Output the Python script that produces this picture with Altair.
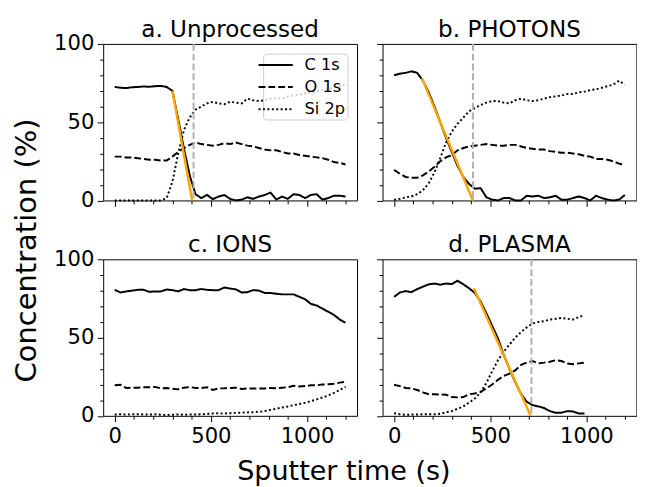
import altair as alt
import pandas as pd

series = ["C 1s", "O 1s", "Si 2p"]
t_full = list(range(0, 1201, 30))
t_plasma = list(range(0, 991, 30))

# a. Unprocessed
a_c = [72.5, 72, 71.8, 72.3, 72.5, 72.8, 72.6, 73, 73.2, 72.5, 70, 52, 33, 16, 4, 1.5, 3.5, 0.8, 2.5, 3.5,
       1, 0, 0.5, 2, 1, 2.5, 3.5, 5, 0.5, 2.5, 1, 4, 3.5, 1.5, 3.5, 4, 0.5, 1.5, 3, 3, 2.5]
a_o = [28, 28, 27.5, 27.5, 27, 26.5, 26, 26, 25.5, 25.5, 28, 31, 33.5, 35.5, 37, 36, 35.5, 35, 35.5, 36.5,
       36, 37, 36, 35, 34.5, 33.5, 32.5, 32, 32, 31, 30, 30, 29, 28.5, 28, 27.5, 27, 26, 24.5, 24, 23]
a_si = [0, 0, 0, 0, 0, 0, 0, 0, 0, 1.5, 12, 30, 45, 53, 58, 60, 62, 63, 62, 61.5,
        63, 62.5, 62, 65, 64, 63.5, 64, 65, 65.5, 65, 66.5, 67, 67.5, 68.5, 69, 69.5, 70.5, 71, 72.5, 73, 74]

# b. PHOTONS
b_c = [80, 81, 81.5, 82.5, 81.5, 76.5, 69, 60, 50, 40, 31, 22, 15, 10.5, 7.5, 7.8, 2, 0.5, 0, 1.5,
       1.5, 0, 0, 3, 2.5, 3, 1.5, 2, 3, 0.5, 0.5, 1.5, 2.5, 1.5, 0, 3, 1.5, 0.5, 0, 0.5, 3.5]
b_o = [19.5, 17, 15, 14.5, 14.5, 16, 18.5, 21.5, 25, 27.5, 29, 32, 33.5, 34.5, 35, 35.5, 36, 35.5, 35, 35,
       35.5, 35.5, 34.5, 33.5, 33, 32.5, 32.5, 31.5, 31, 30.5, 30.5, 30, 29.5, 28.5, 28, 26.5, 26.5, 26, 25, 23.5, 22.5]
b_si = [0.5, 1, 2, 2.5, 4, 6.5, 11, 18, 27, 37, 44, 49, 53, 57, 59, 61, 62.5, 63.5, 63.5, 62.5,
        62, 64, 65, 64, 63.5, 64, 65, 66, 66.5, 67, 68, 68, 69, 69.5, 70.5, 71, 72, 73, 74, 76.5, 74]

# c. IONS
c_c = [80.5, 78.8, 79.5, 80, 80.5, 80.5, 79.2, 79.5, 79.5, 80.7, 80.3, 79.5, 81, 80.3, 80.3, 81, 80.5, 80.3, 80.3, 82,
       81.3, 80.8, 78.8, 79, 80.3, 80, 78.5, 78.5, 78, 77.6, 77.6, 77.6, 76, 74.5, 71.5, 70.5, 68.5, 66.5, 64.5, 61.5, 59.5]
c_o = [19.5, 19.8, 17.8, 18, 18, 18.3, 18.3, 18.5, 17.5, 17.8, 17.3, 16.9, 18, 18.4, 17.8, 17.8, 18.3, 16.5, 17.5, 17.6,
       17.8, 18, 17.2, 17.5, 17.5, 17.5, 17.5, 17.8, 17.6, 18, 18.3, 19.2, 18.8, 19, 19.5, 19.5, 20, 20.2, 20.5, 21.2, 21.8]
c_si = [0.8, 1, 0.8, 1, 1, 0.9, 0.8, 1, 0.7, 0.5, 0.7, 0.9, 0.7, 0.9, 0.8, 1, 1.2, 1.5, 1.6, 1.5,
        1.7, 1.9, 2, 2.2, 2.3, 2.6, 3, 3.8, 4.5, 5.3, 6, 6.8, 7.6, 8.4, 9.4, 10.5, 11.7, 13, 14.6, 16.5, 18.5]

# d. PLASMA
d_c = [76, 78.8, 79.7, 79, 81, 82.5, 84, 84.5, 83.8, 84.5, 84.2, 86.3, 84, 81.5, 78.5, 73, 65.5, 57.5, 49.5, 39,
       30, 21.5, 14, 9, 6.8, 6, 5, 3, 2, 2, 3, 2.8, 1.5, 1.5]
d_o = [19.9, 19, 17.8, 17.5, 16.5, 15, 13.8, 13.8, 13.6, 13.5, 12, 11.8, 12, 13.8, 14.3, 15.3, 17.5, 20, 23, 25.5,
       27, 29, 32.5, 34, 35, 33.5, 34, 34.6, 35.5, 35, 33.5, 33, 33.5, 34]
d_si = [1.7, 1, 0.6, 0.8, 0.8, 1, 1, 1, 1.3, 2.2, 3, 4.5, 6, 8.5, 11, 15, 21, 28.5, 35.5, 41,
        45.5, 50, 53.5, 56.5, 59, 60, 60.5, 61.5, 62, 62.5, 62, 61.5, 63, 64.5]

# linear fits (orange) and grey dashed markers
fit_a_t, fit_a_v = [300, 403], [70, 0]
fit_b_t, fit_b_v = [145, 410], [78, 0]
fit_d_t, fit_d_v = [415, 710], [81.5, 0]
vline_a, vline_b, vline_d = 410, 410, 714

titles = ["a. Unprocessed", "b. PHOTONS", "c. IONS", "d. PLASMA"]
x_title = "Sputter time (s)"
y_title = "Concentration (%)"

FONT = "DejaVu Sans"
W, H = 258.7, 159.5
dash_scale = alt.Scale(domain=series, range=[[1, 0], [7, 3], [2, 2.5]])


def text_layer(txt, px, py, size, angle=0):
    return alt.Chart(pd.DataFrame({"label": [txt]})).mark_text(
        font=FONT, fontSize=size, color="black", align="center", baseline="alphabetic", angle=angle
    ).encode(text="label:N", x=alt.value(px), y=alt.value(py))


def panel(title, t, c, o, si, fit_t=None, fit_v=None, vline=None,
          xlabels=False, ylabels=False, legend=False, ytitle=False, xtitle=False):
    df = pd.DataFrame({
        "t": t * 3,
        "value": c + o + si,
        "series": [series[0]] * len(t) + [series[1]] * len(t) + [series[2]] * len(t),
    })
    xaxis = alt.Axis(
        values=list(range(0, 1300, 100)), format="d", title=None,
        labelExpr="datum.value % 500 === 0 ? datum.label : ''",
        tickSize={"condition": {"test": "datum.value % 500 === 0", "value": 6}, "value": 3.5},
        labels=xlabels, grid=False, domain=False, tickColor="black", tickWidth=1, labelOverlap=False,
        labelFont=FONT, labelFontSize=21.5, labelColor="black", labelPadding=4, labelFlush=False,
    )
    yaxis = alt.Axis(
        values=list(range(0, 101, 10)), title=None,
        labelExpr="datum.value % 50 === 0 ? datum.label : ''",
        tickSize={"condition": {"test": "datum.value % 50 === 0", "value": 6}, "value": 3.5},
        labels=ylabels, grid=False, domain=False, tickColor="black", tickWidth=1, labelOverlap=False,
        labelFont=FONT, labelFontSize=21.5, labelColor="black", labelPadding=3.5,
    )
    x = alt.X("t:Q", scale=alt.Scale(domain=[-60, 1260], nice=False, zero=False), axis=xaxis)
    y = alt.Y("value:Q", scale=alt.Scale(domain=[0, 100], nice=False), axis=yaxis)

    if legend:
        leg = alt.Legend(title=None, orient="top-right", offset=10, labelFont=FONT, labelFontSize=16.5,
                         labelColor="black", symbolType="M-1.9,0H2.2", symbolSize=289,
                         symbolStrokeWidth=2, symbolStrokeColor="black", symbolFillColor="transparent",
                         labelOffset=21.2, rowPadding=4.5, padding=2, strokeColor="#cccccc",
                         fillColor="rgba(255,255,255,0.8)", cornerRadius=3)
    else:
        leg = None

    lines = alt.Chart(df).mark_line(color="black", strokeWidth=2).encode(
        x=x, y=y, strokeDash=alt.StrokeDash("series:N", scale=dash_scale, legend=leg),
        order="t:Q",
    )
    layers = [lines]
    if fit_t is not None:
        fdf = pd.DataFrame({"t": fit_t, "value": fit_v})
        layers.append(alt.Chart(fdf).mark_line(color="#FFA500", strokeWidth=2.5).encode(x=x, y=y))
    if vline is not None:
        vdf = pd.DataFrame({"t": [vline]})
        layers.append(alt.Chart(vdf).mark_rule(color="#b0b0b0", strokeWidth=2, strokeDash=[7, 3]).encode(x=x))
    layers.append(text_layer(title, W / 2, -7.2, 23.5))
    if ytitle:
        layers.append(text_layer(y_title, -68.9, 210.5, 29.5, angle=270))
    if xtitle:
        layers.append(text_layer(x_title, 245.3, H + 65.3, 27.5))
    return alt.layer(*layers).properties(width=W, height=H)


pa = panel(titles[0], t_full, a_c, a_o, a_si, fit_a_t, fit_a_v, vline_a, ylabels=True, legend=True, ytitle=True)
pb = panel(titles[1], t_full, b_c, b_o, b_si, fit_b_t, fit_b_v, vline_b)
pc = panel(titles[2], t_full, c_c, c_o, c_si, xlabels=True, ylabels=True, xtitle=True)
pd_ = panel(titles[3], t_plasma, d_c, d_o, d_si, fit_d_t, fit_d_v, vline_d, xlabels=True)

chart = alt.concat(
    pa, pb, pc, pd_, columns=2, bounds="flush",
    spacing={"row": 59.5, "column": 25.7},
).resolve_scale(
    strokeDash="independent"
).properties(
    padding={"left": 3, "top": 5, "right": 0, "bottom": 0}
).configure(font=FONT).configure_view(stroke="black", strokeWidth=1)

chart.save("out.html", embed_options={"renderer": "svg", "actions": False})
